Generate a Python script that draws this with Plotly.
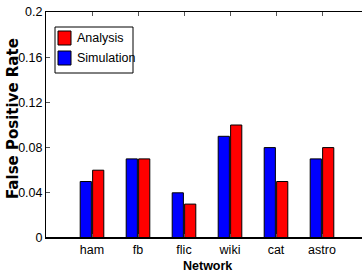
import plotly.graph_objects as go

networks = ["ham", "fb", "flic", "wiki", "cat", "astro"]
simulation = [0.05, 0.07, 0.04, 0.09, 0.08, 0.07]
analysis = [0.06, 0.07, 0.03, 0.10, 0.05, 0.08]
y_ticks = [0, 0.04, 0.08, 0.12, 0.16, 0.2]
y_tick_labels = ["0", "0.04", "0.08", "0.12", "0.16", "0.2"]
legend_names = ["Analysis", "Simulation"]
legend_colors = ["#ff0000", "#0000ff"]

pos = list(range(1, len(networks) + 1))
sans = "Liberation Sans, Arial, sans-serif"

W, H = 362, 276
L, R, T, B = 46, 0, 12, 38
pw, ph = W - L - R, H - T - B

def px_x(x):
    return (x - L) / pw

def px_y(y):
    return (H - B - y) / ph

fig = go.Figure()
fig.add_trace(go.Bar(x=pos, y=simulation, name="Simulation", showlegend=False,
                     marker=dict(color="#0000ff", line=dict(color="black", width=1))))
fig.add_trace(go.Bar(x=pos, y=analysis, name="Analysis", showlegend=False,
                     marker=dict(color="#ff0000", line=dict(color="black", width=1))))

fig.update_layout(
    width=W, height=H,
    margin=dict(l=L, r=R, t=T, b=B),
    paper_bgcolor="white", plot_bgcolor="white",
    barmode="group", bargap=0.46, bargroupgap=0.1,
    font=dict(family=sans, size=12, color="black"),
    showlegend=False,
    xaxis=dict(range=[0, pw / 46], tickmode="array", tickvals=pos, ticktext=networks,
               ticks="inside", ticklen=4, tickcolor="#555", mirror="ticks",
               showline=True, linecolor="black", linewidth=1, showgrid=False,
               zeroline=False, automargin=False, tickfont=dict(family=sans, size=12.5)),
    yaxis=dict(range=[0, 0.2], tickmode="array", tickvals=y_ticks, ticktext=y_tick_labels,
               ticks="inside", ticklen=4, tickcolor="#555",
               showline=True, linecolor="black", linewidth=1, showgrid=False,
               zeroline=False, automargin=False, tickfont=dict(family=sans, size=12.5)),
)
fig.add_shape(type="line", xref="paper", yref="y", x0=0, x1=1, y0=0, y1=0,
              line=dict(color="black", width=2))

# axis titles
fig.add_annotation(text="<b>Network</b>", xref="paper", yref="paper",
                   x=px_x(207), y=px_y(266), showarrow=False,
                   font=dict(family=sans, size=12.5), xanchor="center", yanchor="middle")
fig.add_annotation(text="<b>False Positive Rate</b>", xref="paper", yref="paper",
                   x=px_x(13), y=px_y(119), showarrow=False, textangle=-90,
                   font=dict(family="DejaVu Sans", size=15), xanchor="center", yanchor="middle")

# legend box
fig.add_shape(type="rect", xref="paper", yref="paper",
              x0=px_x(55), x1=px_x(133), y0=px_y(73), y1=px_y(27),
              line=dict(color="black", width=1), fillcolor="white", layer="above")
row_y = [38, 58]
for name, col, ry in zip(legend_names, legend_colors, row_y):
    fig.add_shape(type="rect", xref="paper", yref="paper",
                  x0=px_x(58), x1=px_x(71), y0=px_y(ry + 7), y1=px_y(ry - 7),
                  line=dict(color="black", width=1), fillcolor=col, layer="above")
    fig.add_annotation(text=name, xref="paper", yref="paper",
                       x=px_x(75), y=px_y(ry), showarrow=False,
                       xanchor="left", yanchor="middle",
                       font=dict(family=sans, size=12.5))

fig.write_html("out.html", config={"displayModeBar": False},
               post_script="document.body.style.margin='0';document.body.style.overflow='hidden';")
